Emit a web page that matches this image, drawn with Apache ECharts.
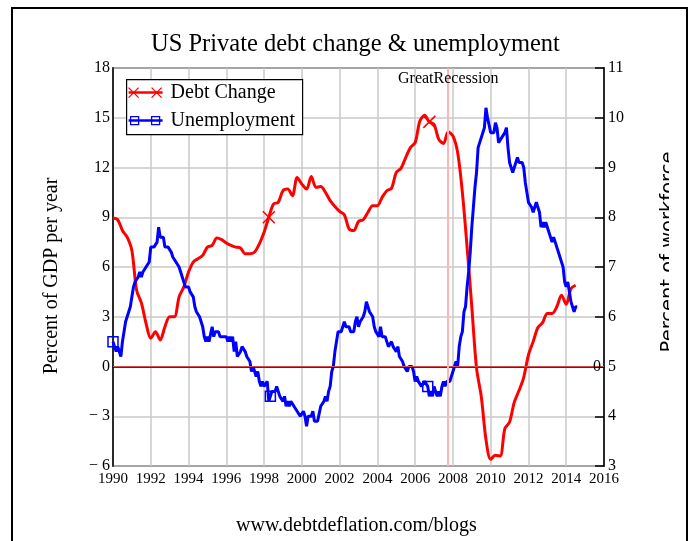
<!DOCTYPE html>
<html>
<head>
<meta charset="utf-8">
<script src="https://cdn.jsdelivr.net/npm/echarts@6.0.0/dist/echarts.min.js"></script>
<style>
html, body { margin: 0; padding: 0; background: #fff; }
#chart { width: 694px; height: 541px; }
</style>
</head>
<body>
<div id="chart"></div>
<script>
// debt change, % of GDP per year, quarterly from 1990
const debtStart = 1990
const debtStep = 0.25
const debtChange = [
  8.95, 8.85, 8.2, 7.8, 7.0, 4.6, 3.85, 2.6, 1.7, 2.1, 1.6, 2.4,
  3.0, 3.0, 4.2, 4.8, 5.7, 6.3, 6.5, 6.7, 7.2, 7.3, 7.75, 7.65,
  7.45, 7.3, 7.2, 7.15, 6.8, 6.8, 6.9, 7.4, 8.1, 9.0, 9.8, 9.9,
  10.6, 10.7, 10.3, 11.4, 11.0, 10.7, 11.45, 10.8, 10.85, 10.5, 10.0, 9.65,
  9.35, 9.15, 8.3, 8.2, 8.75, 8.85, 9.3, 9.7, 9.7, 10.2, 10.6, 10.75,
  11.7, 11.95, 12.6, 13.2, 13.5, 14.8, 15.15, 14.75, 14.6, 13.7, 13.45, 14.15,
  13.9, 12.9, 10.5, 7.2, 3.6, -0.1, -1.8, -4.4, -5.6, -5.35, -5.4, -3.75,
  -3.35, -2.15, -1.45, -0.65, 0.7, 1.5, 2.35, 2.65, 3.2, 3.2, 3.6, 4.3,
  3.75, 4.7, 4.9
]

// unemployment, % of workforce, monthly from Jan 1990
const unempStart = 1990
const unempStep = 1 / 12
const unemployment = [
  5.5, 5.4, 5.3, 5.4, 5.3, 5.2, 5.5, 5.7, 5.9, 5.9, 6.1, 6.2,
  6.4, 6.6, 6.7, 6.7, 6.8, 6.9, 6.8, 6.9, 6.9, 7.0, 7.0, 7.1,
  7.4, 7.4, 7.4, 7.4, 7.5, 7.8, 7.6, 7.6, 7.6, 7.4, 7.4, 7.4,
  7.4, 7.3, 7.2, 7.2, 7.1, 7.1, 7.0, 6.9, 6.8, 6.8, 6.6, 6.6,
  6.6, 6.5, 6.5, 6.4, 6.2, 6.1, 6.1, 6.0, 5.9, 5.8, 5.6, 5.5,
  5.6, 5.5, 5.5, 5.8, 5.6, 5.7, 5.7, 5.7, 5.6, 5.6, 5.6, 5.6,
  5.6, 5.5, 5.6, 5.5, 5.6, 5.3, 5.5, 5.2, 5.2, 5.3, 5.4, 5.4,
  5.3, 5.2, 5.2, 5.1, 4.9, 5.0, 4.9, 4.8, 4.9, 4.7, 4.6, 4.7,
  4.6, 4.6, 4.7, 4.3, 4.4, 4.5, 4.5, 4.5, 4.6, 4.5, 4.4, 4.4,
  4.3, 4.4, 4.2, 4.3, 4.2, 4.3, 4.3, 4.2, 4.2, 4.1, 4.1, 4.0,
  4.0, 4.1, 4.0, 3.8, 4.0, 4.0, 4.0, 4.1, 3.9, 3.9, 3.9, 3.9,
  4.2, 4.2, 4.3, 4.4, 4.3, 4.5, 4.6, 4.9, 5.0, 5.3, 5.5, 5.7,
  5.7, 5.7, 5.7, 5.9, 5.8, 5.8, 5.8, 5.7, 5.7, 5.7, 5.9, 6.0,
  5.8, 5.9, 5.9, 6.0, 6.1, 6.3, 6.2, 6.1, 6.1, 6.0, 5.8, 5.7,
  5.7, 5.6, 5.8, 5.6, 5.6, 5.6, 5.5, 5.4, 5.4, 5.5, 5.4, 5.4,
  5.3, 5.4, 5.2, 5.2, 5.1, 5.0, 5.0, 4.9, 5.0, 5.0, 5.0, 4.9,
  4.7, 4.8, 4.7, 4.7, 4.6, 4.6, 4.7, 4.7, 4.6, 4.4, 4.5, 4.4,
  4.6, 4.5, 4.4, 4.5, 4.4, 4.6, 4.7, 4.6, 4.7, 4.7, 4.7, 4.8,
  4.9, 4.9, 5.1, 5.0, 5.4, 5.6, 5.7, 6.1, 6.2, 6.6, 6.9, 7.3,
  7.8, 8.2, 8.6, 8.9, 9.4, 9.5, 9.5, 9.7, 9.8, 10.2, 10.0, 10.0,
  9.7, 9.7, 9.7, 9.9, 9.8, 9.5, 9.5, 9.6, 9.6, 9.7, 9.8, 9.4,
  9.1, 9.0, 8.9, 9.0, 9.1, 9.2, 9.1, 9.1, 9.1, 9.0, 8.7, 8.5,
  8.3, 8.3, 8.2, 8.1, 8.2, 8.3, 8.3, 8.1, 7.8, 7.9, 7.8, 7.9,
  7.9, 7.7, 7.6, 7.5, 7.6, 7.6, 7.4, 7.3, 7.2, 7.2, 7.0, 6.7,
  6.6, 6.7, 6.7, 6.3, 6.3, 6.1, 6.2, 6.2
]

// points that carry a marker
const debtMarks = [33, 67]
const unempMarks = [0, 100, 200]
const recessionYear = 2007.75

const serif = '"Liberation Serif", "Times New Roman", serif'
const red = '#ff0000'
const blue = '#0000ff'

const crossPath = 'path://M0,0L10,10M10,0L0,10'
const boxPath = 'path://M0,0L10,0L10,10L0,10Z'

const debtData = debtChange.map((v, i) => {
  let item = { value: [debtStart + i * debtStep, v] }
  if (debtMarks.includes(i)) {
    item.symbol = crossPath
    item.symbolSize = 12
    item.itemStyle = { color: 'rgba(0,0,0,0)', borderColor: red, borderWidth: 1.5 }
  }
  return item
})

const unempData = unemployment.map((v, i) => {
  let item = { value: [unempStart + i * unempStep, v] }
  if (unempMarks.includes(i)) {
    item.symbol = boxPath
    item.symbolSize = 10
    item.itemStyle = { color: 'rgba(0,0,0,0)', borderColor: blue, borderWidth: 1.5 }
  }
  return item
})

let myChart = echarts.init(document.getElementById('chart'))

let option = {
  animation: false,
  backgroundColor: '#ffffff',
  title: [{
    text: 'US Private debt change & unemployment',
    left: 146,
    top: 27,
    textStyle: { fontFamily: serif, fontSize: 24.5, fontWeight: 'normal', color: '#000' }
  }, {
    text: 'www.debtdeflation.com/blogs',
    left: 231,
    top: 511,
    textStyle: { fontFamily: serif, fontSize: 20, fontWeight: 'normal', color: '#000' }
  }],
  grid: {
    left: 113,
    right: 90,
    top: 68,
    bottom: 75,
    show: true,
    borderColor: '#000',
    borderWidth: 1.5
  },
  xAxis: {
    type: 'value',
    min: 1990,
    max: 2016,
    interval: 2,
    axisLine: { lineStyle: { color: '#000', width: 1.5 } },
    axisTick: { show: false },
    splitLine: { show: true, lineStyle: { color: '#c8c8c8', width: 1.5 } },
    axisLabel: {
      margin: 6,
      color: '#000',
      fontFamily: serif,
      fontSize: 15,
      formatter: v => String(v)
    }
  },
  yAxis: [{
    type: 'value',
    min: -6,
    max: 18,
    interval: 3,
    position: 'left',
    axisLine: { show: true, lineStyle: { color: '#000', width: 1.5 } },
    axisTick: { show: false },
    splitLine: { show: true, lineStyle: { color: '#c8c8c8', width: 1.5 } },
    axisLabel: {
      margin: 3,
      color: '#000',
      fontFamily: serif,
      fontSize: 16,
      formatter: v => v < 0 ? '\u2212 ' + Math.abs(v) : String(v)
    },
    name: 'Percent of GDP per year',
    nameLocation: 'middle',
    nameGap: 51,
    nameRotate: 90,
    nameTextStyle: { fontFamily: serif, fontSize: 20, color: '#000', padding: [0, 18, 0, 0] }
  }, {
    type: 'value',
    min: 3,
    max: 11,
    interval: 1,
    position: 'right',
    axisLine: { show: true, lineStyle: { color: '#000', width: 1.5 } },
    axisTick: { show: true, inside: true, length: 9, lineStyle: { color: '#000', width: 1.5 } },
    splitLine: { show: false },
    axisLabel: {
      margin: 4,
      color: '#000',
      fontFamily: serif,
      fontSize: 16
    },
    name: 'Percent of workforce',
    nameLocation: 'middle',
    nameGap: 55,
    nameRotate: 90,
    nameTextStyle: { fontFamily: '"DejaVu Sans", sans-serif', fontSize: 19.5, color: '#000', padding: [0, 0, 0, 30] }
  }],
  series: [{
    name: 'Debt Change',
    type: 'line',
    yAxisIndex: 0,
    data: debtData,
    symbol: 'none',
    showSymbol: true,
    smooth: 0.3,
    itemStyle: { color: red },
    lineStyle: { color: red, width: 3 },
    markLine: {
      silent: true,
      symbol: ['none', 'none'],
      animation: false,
      data: [{
        yAxis: 0,
        lineStyle: { color: '#d84a4a', width: 1, type: 'solid' },
        label: { show: true, position: 'end', distance: -11, formatter: '0', color: '#000', fontFamily: serif, fontSize: 16 }
      }, {
        xAxis: recessionYear,
        lineStyle: { color: '#ffb4b4', width: 2, type: 'solid' },
        label: { show: true, position: 'end', distance: -19, formatter: 'GreatRecession', color: '#000', fontFamily: serif, fontSize: 16 }
      }]
    }
  }, {
    name: 'Unemployment',
    type: 'line',
    yAxisIndex: 1,
    data: unempData,
    symbol: 'none',
    showSymbol: true,
    itemStyle: { color: blue },
    lineStyle: { color: blue, width: 3 }
  }],
  graphic: [
    // outer frame
    {
      type: 'rect',
      shape: { x: 12, y: 8, width: 675, height: 560 },
      style: { fill: 'none', stroke: '#000', lineWidth: 2 },
      silent: true
    },
    // the right axis title is cut off in the original
    {
      type: 'rect',
      shape: { x: 669, y: 100, width: 16, height: 320 },
      style: { fill: '#fff' },
      z: 100,
      silent: true
    },
    // legend box
    {
      type: 'group',
      left: 126,
      top: 79,
      z: 100,
      silent: true,
      children: [
        { type: 'rect', z: 100, shape: { x: 0, y: 0, width: 176, height: 55 }, style: { fill: '#fff', stroke: '#000', lineWidth: 1.2 } },
        { type: 'line', z: 101, shape: { x1: 2, y1: 13, x2: 36, y2: 13 }, style: { stroke: red, lineWidth: 2.5 } },
        { type: 'polyline', z: 101, shape: { points: [[2, 8], [12, 18]] }, style: { stroke: red, lineWidth: 1.3, fill: 'none' } },
        { type: 'polyline', z: 101, shape: { points: [[12, 8], [2, 18]] }, style: { stroke: red, lineWidth: 1.3, fill: 'none' } },
        { type: 'polyline', z: 101, shape: { points: [[25, 8], [35, 18]] }, style: { stroke: red, lineWidth: 1.3, fill: 'none' } },
        { type: 'polyline', z: 101, shape: { points: [[35, 8], [25, 18]] }, style: { stroke: red, lineWidth: 1.3, fill: 'none' } },
        { type: 'text', z: 101, style: { text: 'Debt Change', x: 44, y: 13, font: '20px ' + serif, fill: '#000', align: 'left', verticalAlign: 'middle', textAlign: 'left', textVerticalAlign: 'middle' } },
        { type: 'line', z: 101, shape: { x1: 2, y1: 41, x2: 36, y2: 41 }, style: { stroke: blue, lineWidth: 2.5 } },
        { type: 'rect', z: 101, shape: { x: 4, y: 37, width: 8, height: 8 }, style: { fill: 'none', stroke: blue, lineWidth: 1.3 } },
        { type: 'rect', z: 101, shape: { x: 25, y: 37, width: 8, height: 8 }, style: { fill: 'none', stroke: blue, lineWidth: 1.3 } },
        { type: 'text', z: 101, style: { text: 'Unemployment', x: 44, y: 41, font: '20px ' + serif, fill: '#000', align: 'left', verticalAlign: 'middle', textAlign: 'left', textVerticalAlign: 'middle' } }
      ]
    }
  ]
}

myChart.setOption(option)
window.addEventListener('resize', function () {
  myChart.resize()
})
</script>
</body>
</html>
